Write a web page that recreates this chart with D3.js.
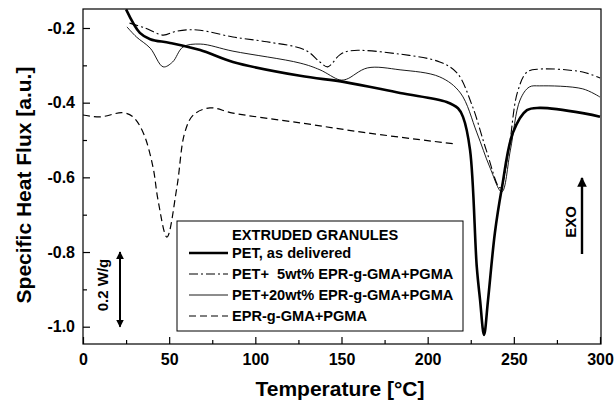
<!DOCTYPE html>
<html><head><meta charset="utf-8">
<script src="https://cdn.jsdelivr.net/npm/d3@7"></script>
<style>body{margin:0;background:#fff}svg{display:block}text{font-family:"Liberation Sans",Arial,sans-serif;font-weight:bold;white-space:pre}</style>
</head><body><svg id="c" width="615" height="402"></svg>
<script>
const xTicks=[0,50,100,150,200,250,300];
const yTicks=[-0.2,-0.4,-0.6,-0.8,-1.0];
const seriesNames=["PET, as delivered","PET+  5wt% EPR-g-GMA+PGMA","PET+20wt% EPR-g-GMA+PGMA","EPR-g-GMA+PGMA"];
const petT=[25,33,39,50.5,68,87,126,152,184,211,217.6,220.5,224.6,228.5,230.4,232.7,235,239,243,249.5,257.6,265,290,300];
const petV=[-0.15,-0.213,-0.23,-0.24,-0.259,-0.291,-0.328,-0.345,-0.374,-0.398,-0.415,-0.438,-0.527,-0.84,-0.928,-1.022,-0.93,-0.749,-0.63,-0.48,-0.42,-0.414,-0.428,-0.438];
const p5T=[27,36,46.5,53,60,68,87,106.7,129,137.5,142,149,155,184,207,217,226,234,242,247,252,257.6,265,290,300];
const p5V=[-0.187,-0.2,-0.219,-0.21,-0.205,-0.206,-0.224,-0.237,-0.259,-0.291,-0.304,-0.272,-0.261,-0.27,-0.291,-0.32,-0.41,-0.527,-0.628,-0.527,-0.374,-0.318,-0.31,-0.318,-0.334];
const p20T=[25.5,31,39,46.5,52,58,68,87,126,137.5,149,153,165,184,207,219,228.6,236,243,248,253.6,259,265,290,300];
const p20V=[-0.197,-0.224,-0.254,-0.304,-0.291,-0.251,-0.243,-0.262,-0.294,-0.312,-0.339,-0.337,-0.307,-0.312,-0.331,-0.374,-0.481,-0.572,-0.639,-0.527,-0.393,-0.358,-0.355,-0.363,-0.385];
const eprT=[0,10,23,29,35,40.6,43.5,48.7,54.5,59,64,73.7,87,126,165,214.7];
const eprV=[-0.433,-0.438,-0.427,-0.438,-0.481,-0.572,-0.66,-0.76,-0.626,-0.481,-0.433,-0.414,-0.428,-0.454,-0.481,-0.51];

const svg=d3.select("#c");
const L=83,R=601,T=9,B=344;
const x=d3.scaleLinear().domain([0,300]).range([83,600]);
const y=d3.scaleLinear().domain([-1.0,-0.2]).range([326.7,28]);

svg.append("rect").attr("x",L).attr("y",T).attr("width",R-L).attr("height",B-T).attr("fill","none").attr("stroke","#000").attr("stroke-width",1.2);

const gx=svg.append("g").attr("transform",`translate(0,${B})`);
gx.call(d3.axisBottom(x).tickValues(xTicks).tickSizeInner(-7).tickSizeOuter(0).tickPadding(10).tickFormat(d3.format("d")));
const gxm=svg.append("g").attr("transform",`translate(0,${B})`);
gxm.call(d3.axisBottom(x).tickValues([25,75,125,175,225,275]).tickSizeInner(-4).tickSizeOuter(0).tickFormat(""));
const gy=svg.append("g").attr("transform",`translate(${L},0)`);
gy.call(d3.axisLeft(y).tickValues(yTicks).tickSizeInner(-7).tickSizeOuter(0).tickPadding(8).tickFormat(d3.format(".1f")));
const gym=svg.append("g").attr("transform",`translate(${L},0)`);
gym.call(d3.axisLeft(y).tickValues([-0.3,-0.5,-0.7,-0.9]).tickSizeInner(-4).tickSizeOuter(0).tickFormat(""));
svg.selectAll(".domain").remove();
svg.selectAll(".tick text").attr("font-size",16).attr("font-family","Liberation Sans, Arial, sans-serif").attr("font-weight","bold").attr("fill","#000").text(function(){return this.textContent.replace("−","-");});
svg.selectAll(".tick line").attr("stroke","#000").attr("stroke-width",1.2);

svg.append("text").attr("x",340).attr("y",396).attr("text-anchor","middle").attr("font-size",21).text("Temperature [°C]");
svg.append("text").attr("transform","translate(31,185) rotate(-90)").attr("text-anchor","middle").attr("font-size",21).text("Specific Heat Flux [a.u.]");

svg.append("clipPath").attr("id","cp").append("rect").attr("x",L).attr("y",T).attr("width",R-L).attr("height",B-T);
const line=d3.line().x(d=>x(d[0])).y(d=>y(d[1])).curve(d3.curveCatmullRom.alpha(0.5));
const series=[
 {t:petT,v:petV,w:2.6,dash:null},
 {t:p5T,v:p5V,w:1.1,dash:"9,3,2,3"},
 {t:p20T,v:p20V,w:0.9,dash:null},
 {t:eprT,v:eprV,w:1.2,dash:"7,4"}
];
const gl=svg.append("g").attr("clip-path","url(#cp)");
series.forEach(s=>{
 gl.append("path").datum(s.t.map((t,i)=>[t,s.v[i]])).attr("d",line).attr("fill","none").attr("stroke","#000").attr("stroke-width",s.w).attr("stroke-dasharray",s.dash);
});

const lg=svg.append("g");
lg.append("rect").attr("x",177).attr("y",221).attr("width",286).attr("height",110).attr("fill","#fff").attr("stroke","#000").attr("stroke-width",1);
lg.append("text").attr("x",232).attr("y",240).attr("font-size",14.6).text("EXTRUDED GRANULES");
const ly=[253,274,295,316];
series.forEach((s,i)=>{
 lg.append("line").attr("x1",189).attr("x2",228).attr("y1",ly[i]).attr("y2",ly[i]).attr("stroke","#000").attr("stroke-width",s.w).attr("stroke-dasharray",s.dash);
 lg.append("text").attr("x",232).attr("y",ly[i]+5).attr("font-size",14.6).text(seriesNames[i]);
});

const defs=svg.append("defs");
defs.append("marker").attr("id","ah").attr("viewBox","0 0 10 10").attr("refX",9).attr("refY",5).attr("markerWidth",4).attr("markerHeight",5).attr("orient","auto-start-reverse").attr("markerUnits","strokeWidth")
 .append("path").attr("d","M0,0L10,5L0,10z").attr("fill","#000");
svg.append("line").attr("x1",120).attr("x2",120).attr("y1",y(-0.8)).attr("y2",y(-1.0)).attr("stroke","#000").attr("stroke-width",2).attr("marker-start","url(#ah)").attr("marker-end","url(#ah)");
svg.append("text").attr("transform","translate(108,285) rotate(-90)").attr("text-anchor","middle").attr("font-size",15).text("0.2 W/g");
svg.append("line").attr("x1",582).attr("x2",582).attr("y1",254).attr("y2",178).attr("stroke","#000").attr("stroke-width",2.4).attr("marker-end","url(#ah)");
svg.append("text").attr("transform","translate(576,222) rotate(-90)").attr("text-anchor","middle").attr("font-size",15).text("EXO");
</script></body></html>
